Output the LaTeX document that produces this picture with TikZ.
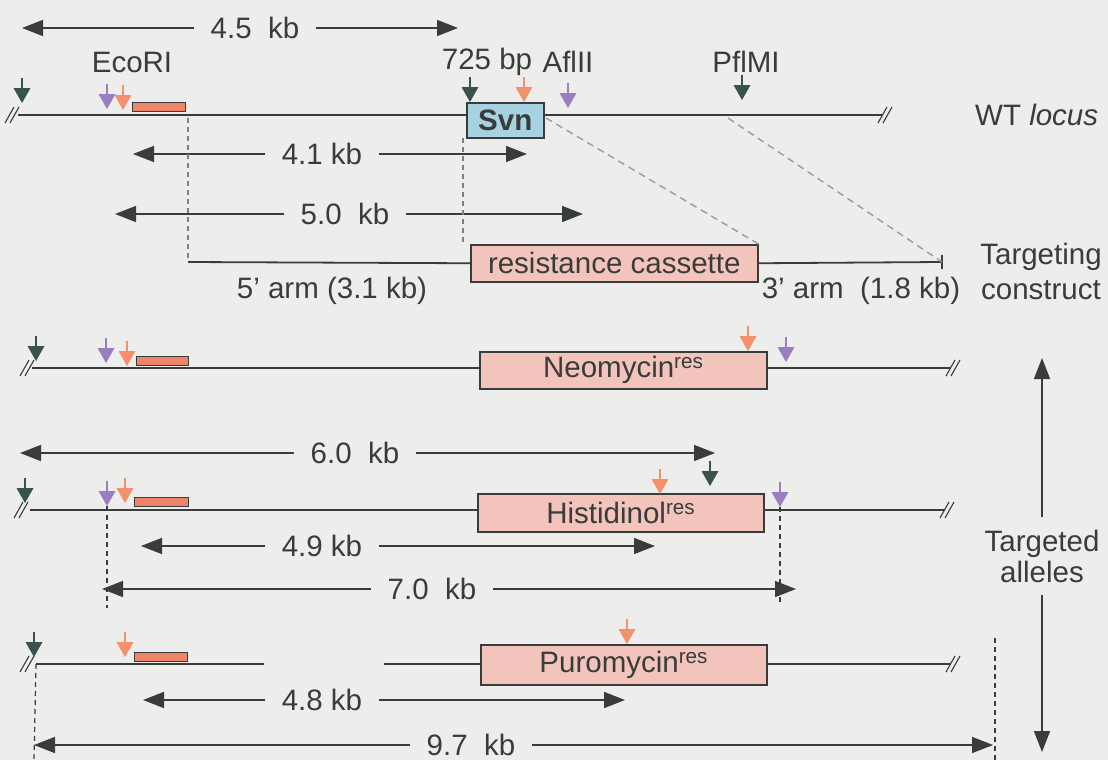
\documentclass[tikz,border=0pt]{standalone}
\usepackage{fontspec}
\setmainfont{Liberation Sans}
\usetikzlibrary{arrows.meta}
\definecolor{bg}{HTML}{EDEDEB}
\definecolor{ink}{HTML}{383C3A}
\definecolor{cdark}{HTML}{37524F}
\definecolor{cpurp}{HTML}{9A7EC2}
\definecolor{corng}{HTML}{F4906C}
\definecolor{probe}{HTML}{EE8568}
\definecolor{cass}{HTML}{F2C4BC}
\definecolor{svnc}{HTML}{A6D2E2}
\newcommand\kbarrow[6]{%
  \node[dimlab] (#1) at (#4,#2) {#6};
  \coordinate (#1l) at (#3,#2);
  \coordinate (#1r) at (#5,#2);
  \draw[dim] (#1.west) -- (#1l);
  \draw[dim] (#1.east) -- (#1r);}
\tikzset{
  cut/.pic={\draw[#1, line width=1.3pt] (0,-25) -- (0,-14);
            \fill[#1] (-8.5,-15) -- (8.5,-15) -- (0,0) -- cycle;},
  brk/.pic={\draw[ink, line width=1.1pt] (-8,8) -- (1,-8) (-3,8) -- (6,-8);}
}
\begin{document}
\begin{tikzpicture}[x=1pt,y=-1pt,
  font=\fontsize{29.5}{34}\selectfont, text=ink,
  dna/.style={draw=ink, line width=1.8pt},
  dim/.style={draw=ink, line width=1.6pt, -{Triangle[length=21pt,width=16pt]}},
  dimlab/.style={inner xsep=17pt, inner ysep=0pt},
  guide/.style={draw=ink, line width=1.2pt, dash pattern=on 5pt off 4pt},
  guidel/.style={draw=gray, line width=1.1pt, dash pattern=on 5pt off 4pt},
  diag/.style={draw=gray!75, line width=1.5pt, dash pattern=on 7pt off 5pt},
  lab/.style={inner sep=0pt},
  genebox/.style={draw=ink, line width=1.5pt, fill=cass, inner sep=0pt, anchor=north west},
  probebox/.style={draw=ink, line width=1.3pt, fill=probe, inner sep=0pt, anchor=north west}]
\fill[bg] (0,0) rectangle (1108,760);
\useasboundingbox (0,0) rectangle (1108,760);

% ---------------- WT locus ----------------
\kbarrow{t45}{28}{22}{255}{458}{4.5\ \ kb}
\node[lab] (ecori) at (132,62) {EcoRI};
\node[lab] (bp725) at (487,62) {725 bp};
\node[lab] (afl) at (568,62) {AflII};
\node[lab] (pfl) at (746,62) {PflMI};
\coordinate (wtL) at (18,115);
\coordinate (wtR) at (882,115);
\draw[dna] (wtL) -- (wtR);
\pic at (13,115) {brk};
\pic at (886,115) {brk};
\node[probebox, minimum width=53pt, minimum height=9pt] (pr1) at (132,102) {};
\node[draw=ink, line width=1.5pt, fill=svnc, inner sep=0pt, anchor=north west,
      minimum width=77pt, minimum height=35pt, font=\fontsize{29.5}{34}\selectfont\bfseries] (svn) at (466,102) {Svn};
\pic at (22,103) {cut=cdark};
\pic at (107,109) {cut=cpurp};
\pic at (123,110) {cut=corng};
\pic at (470,102) {cut=cdark};
\pic at (524,102) {cut=corng};
\pic at (568,108) {cut=cpurp};
\pic at (742,100) {cut=cdark};
\node[lab, anchor=west] (wt) at (975,115) {WT \textit{locus}};

\kbarrow{t41}{154}{133}{322}{527}{4.1 kb}

% ---------------- Targeting construct ----------------
\kbarrow{t50}{214}{115}{345}{583}{5.0\ \ kb}
\node[genebox, minimum width=287pt, minimum height=37pt] (res) at (470,244) {resistance cassette};
\coordinate (a5L) at (188,262);
\coordinate (a3R) at (942,262);
\draw[dna] (a5L) -- (res.west);
\draw[dna] (res.east) -- (a3R);
\draw[dna] ([yshift=-7pt]a3R) -- ([yshift=7pt]a3R);
\coordinate (g1) at (188,118);
\coordinate (g2) at (463,138);
\draw[guidel] (g1) -- (a5L);
\draw[guidel] (g2) -- (g2 |- res.north);
\coordinate (d1) at (546,118);
\coordinate (d2) at (728,118);
\draw[diag] (d1) -- (res.north east);
\draw[diag] (d2) -- (a3R);
\node[lab] (arm5) at (332,291) {5' arm (3.1 kb)};
\node[lab] (arm3) at (861,291) {3' arm\ \ (1.8 kb)};
\node[lab, align=center] (tc) at (1041,271) {Targeting\\[1pt]construct};

% ---------------- Neomycin allele ----------------
\coordinate (nL) at (32,368);
\coordinate (nR) at (950,368);
\draw[dna] (nL) -- (nR);
\pic at (28,368) {brk};
\pic at (954,368) {brk};
\node[genebox, minimum width=287pt, minimum height=37pt] (neo) at (479,351) {Neomycin\textsuperscript{res}};
\node[probebox, minimum width=52pt, minimum height=9pt] (pr2) at (136,356) {};
\pic at (36,361) {cut=cdark};
\pic at (106,363) {cut=cpurp};
\pic at (127,366) {cut=corng};
\pic at (748,351) {cut=corng};
\pic at (786,362) {cut=cpurp};

% ---------------- Histidinol allele ----------------
\kbarrow{t60}{453}{20}{355}{715}{6.0\ \ kb}
\coordinate (hL) at (30,510);
\coordinate (hR) at (945,510);
\draw[dna] (hL) -- (hR);
\pic at (22,510) {brk};
\pic at (948,510) {brk};
\node[genebox, minimum width=286pt, minimum height=38pt] (his) at (477,493) {Histidinol\textsuperscript{res}};
\node[probebox, minimum width=54pt, minimum height=9pt] (pr3) at (134,497) {};
\pic at (25,503) {cut=cdark};
\pic at (107,506) {cut=cpurp};
\pic at (125,503) {cut=corng};
\pic at (660,494) {cut=corng};
\pic at (710,486) {cut=cdark};
\pic at (780,507) {cut=cpurp};
\kbarrow{t49}{546}{141}{322}{655}{4.9 kb}
\kbarrow{t70}{589}{102}{432}{796}{7.0\ \ kb}
\coordinate (h1) at (107,506);
\coordinate (h2) at (780,507);
\draw[guide] (h1) -- (107,608);
\draw[guide] (h2) -- (780,604);

% ---------------- Puromycin allele ----------------
\coordinate (pL) at (36,664);
\coordinate (pM1) at (264,664);
\coordinate (pM2) at (384,664);
\coordinate (pR) at (950,664);
\node[genebox, minimum width=286pt, minimum height=40pt] (puro) at (480,644) {Puromycin\textsuperscript{res}};
\draw[dna] (pL) -- (pM1);
\draw[dna] (pM2) -- (puro.west |- pM2);
\draw[dna] (puro.east |- pR) -- (pR);
\pic at (28,664) {brk};
\pic at (954,664) {brk};
\node[probebox, minimum width=53pt, minimum height=9pt] (pr4) at (134,652) {};
\pic at (34,657) {cut=cdark};
\pic at (125,657) {cut=corng};
\pic at (627,644) {cut=corng};
\kbarrow{t48}{700}{143}{322}{625}{4.8 kb}
\kbarrow{t97}{745}{34}{471}{993}{9.7\ \ kb}
\draw[guide] (pL) -- (34,760);
\coordinate (p2) at (995,638);
\draw[guide] (p2) -- (995,760);

% ---------------- Targeted alleles ----------------
\node[lab, align=center, inner ysep=12pt] (ta) at (1042,556) {Targeted\\[-3pt]alleles};
\coordinate (vaT) at (1042,358);
\coordinate (vaB) at (1042,752);
\draw[dim] (ta.north) -- (vaT);
\draw[dim] (ta.south) -- (vaB);
\end{tikzpicture}
\end{document}
